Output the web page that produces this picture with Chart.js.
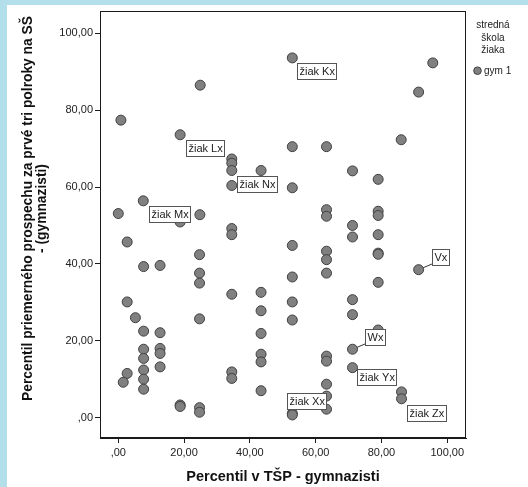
<!DOCTYPE html>
<html>
<head>
<meta charset="utf-8">
<script src="https://cdn.jsdelivr.net/npm/chart.js@4"></script>
<style>
  html, body { margin: 0; padding: 0; background: #b3dfeb; width: 528px; height: 487px; overflow: hidden; }
  #panel { position: absolute; left: 7px; top: 5px; width: 521px; height: 482px; background: #ffffff; }
  canvas { display: block; }
</style>
</head>
<body>
<div id="panel"><canvas id="c" width="521" height="482"></canvas></div>
<script>
// ---- data ----
const xValues = [24.9, 0.8, 18.8, 34.5, 34.5, 34.5, 43.4, 34.5, 7.6, 0.0, 24.8, 18.8, 34.5, 34.5,
  52.9, 52.9, 52.9, 95.6, 91.3, 86.0, 63.3, 71.2, 79.0, 63.3, 63.3, 79.0, 79.0, 71.2,
  2.7, 24.7, 7.7, 12.7, 24.7, 24.7, 34.5, 43.4, 43.4, 2.7, 5.2, 24.7, 7.7, 12.7, 43.4,
  7.7, 7.7, 12.7, 12.7, 12.7, 43.4, 43.4, 7.7, 7.7, 7.7, 2.7, 1.5, 34.5, 34.5, 43.4,
  18.8, 18.8, 24.7, 24.7, 52.9, 52.9, 52.9, 52.9, 71.2, 79.0, 63.3, 63.3, 63.3, 79.0,
  79.0, 79.0, 91.3, 71.2, 71.2, 79.0, 71.2, 63.3, 63.3, 71.2, 63.3, 63.3, 63.3, 86.1,
  86.1, 52.9, 52.9];
const yValues = [86.5, 77.4, 73.6, 67.3, 66.2, 64.3, 64.3, 60.4, 56.4, 53.1, 52.8, 50.9, 49.2, 47.6,
  93.6, 70.5, 59.8, 92.3, 84.7, 72.3, 70.5, 64.2, 62.0, 54.1, 52.4, 53.7, 52.6, 50.0,
  45.7, 42.4, 39.3, 39.6, 37.6, 35.0, 32.1, 32.6, 27.8, 30.1, 26.0, 25.7, 22.5, 22.1, 21.9,
  17.8, 15.4, 18.0, 16.7, 13.2, 16.5, 14.5, 12.4, 10.0, 7.4, 11.5, 9.2, 11.9, 10.2, 7.0,
  3.3, 2.9, 2.6, 1.4, 44.8, 36.6, 30.1, 25.4, 47.0, 47.6, 43.3, 41.1, 37.6, 42.8,
  42.5, 35.2, 38.5, 30.7, 26.8, 22.8, 17.8, 16.0, 14.7, 13.0, 8.7, 5.6, 2.2, 6.7,
  4.9, 1.1, 0.7];

const labelNames = ['žiak Kx', 'žiak Lx', 'žiak Nx', 'žiak Mx', 'Vx', 'Wx', 'žiak Yx', 'žiak Xx', 'žiak Zx'];
const labelX = [52.9, 18.8, 34.5, 7.6, 91.3, 71.2, 71.2, 52.9, 86.1];
const labelY = [93.6, 73.6, 60.4, 56.4, 38.5, 17.8, 13.0, 1.1, 4.9];

const xTickValues = [0, 20, 40, 60, 80, 100];
const xTickLabels = [',00', '20,00', '40,00', '60,00', '80,00', '100,00'];
const yTickValues = [0, 20, 40, 60, 80, 100];
const yTickLabels = [',00', '20,00', '40,00', '60,00', '80,00', '100,00'];

const seriesName = 'gym 1';
const legendTitle = ['stredná', 'škola', 'žiaka'];
const xTitle = 'Percentil v TŠP - gymnazisti';
const yTitle = ['Percentil priemerného prospechu za prvé tri polroky na SŠ', '- (gymnazisti)'];

// ---- style ----
const FONT = "'Liberation Sans', Arial, Helvetica, sans-serif";
const POINT_FILL = '#808080';
const POINT_BORDER = '#404040';
const AXIS_COLOR = '#1a1a1a';
const TEXT_COLOR = '#222222';

// label box offsets (px, relative to point) and connector flags
const labelStyle = [
  { dx: 5, dy: 5.4 }, { dx: 5.7, dy: 5.7 }, { dx: 5, dy: -9.3 }, { dx: 5.7, dy: 5.4 },
  { dx: 13, dy: -20.3, line: true }, { dx: 12.3, dy: -20.6, line: true },
  { dx: 4, dy: 1.6 }, { dx: -5.6, dy: -20.6 }, { dx: 5, dy: 6.7 }
];

const framePlugin = {
  id: 'frame',
  afterDraw(chart) {
    const { ctx, chartArea: a } = chart;
    ctx.save();
    ctx.strokeStyle = AXIS_COLOR;
    ctx.lineWidth = 1;
    ctx.strokeRect(Math.round(a.left) + 0.5, Math.round(a.top) + 0.5,
      Math.round(a.right - a.left) - 1, Math.round(a.bottom - a.top) - 1);
    ctx.restore();
  }
};

const labelPlugin = {
  id: 'pointLabels',
  afterDatasetsDraw(chart) {
    const { ctx } = chart;
    const xs = chart.scales.x, ys = chart.scales.y;
    ctx.save();
    ctx.font = '11px ' + FONT;
    labelNames.forEach((name, i) => {
      const px = xs.getPixelForValue(labelX[i]);
      const py = ys.getPixelForValue(labelY[i]);
      const st = labelStyle[i];
      const tw = ctx.measureText(name).width;
      const w = Math.round(tw + 5), h = 17;
      const bx = Math.round(px + st.dx), by = Math.round(py + st.dy);
      if (st.line) {
        const tx = bx, ty = by + h - 2;
        const ang = Math.atan2(ty - py, tx - px);
        ctx.beginPath();
        ctx.strokeStyle = '#333';
        ctx.lineWidth = 1;
        ctx.moveTo(px + 5 * Math.cos(ang), py + 5 * Math.sin(ang));
        ctx.lineTo(tx, ty);
        ctx.stroke();
      }
      ctx.fillStyle = '#ffffff';
      ctx.fillRect(bx, by, w, h);
      ctx.strokeStyle = '#555555';
      ctx.lineWidth = 1;
      ctx.strokeRect(bx + 0.5, by + 0.5, w - 1, h - 1);
      ctx.fillStyle = TEXT_COLOR;
      ctx.textBaseline = 'middle';
      ctx.textAlign = 'left';
      ctx.fillText(name, bx + 2.5, by + h / 2 + 0.5);
    });
    ctx.restore();
  }
};

const sideTextPlugin = {
  id: 'sideText',
  afterDraw(chart) {
    const { ctx } = chart;
    const ds = chart.data.datasets[0];
    ctx.save();
    // y axis title
    ctx.fillStyle = '#111';
    ctx.font = 'bold 13.8px ' + FONT;
    ctx.textAlign = 'center';
    ctx.textBaseline = 'middle';
    yTitle.forEach((t, i) => {
      ctx.save();
      ctx.translate(21 + i * 14, 203.5);
      ctx.rotate(-Math.PI / 2);
      ctx.fillText(t, 0, 0);
      ctx.restore();
    });
    // legend
    ctx.font = '10px ' + FONT;
    ctx.fillStyle = TEXT_COLOR;
    legendTitle.forEach((t, i) => ctx.fillText(t, 486, 20.5 + i * 12.5));
    ctx.beginPath();
    ctx.arc(470.5, 65.7, 3.8, 0, Math.PI * 2);
    ctx.fillStyle = ds.backgroundColor;
    ctx.fill();
    ctx.strokeStyle = ds.borderColor;
    ctx.lineWidth = 1;
    ctx.stroke();
    ctx.fillStyle = TEXT_COLOR;
    ctx.textAlign = 'left';
    ctx.fillText(ds.label, 477, 66);
    ctx.restore();
  }
};

new Chart(document.getElementById('c'), {
  type: 'scatter',
  data: {
    datasets: [{
      label: seriesName,
      data: xValues.map((x, i) => ({ x: x, y: yValues[i] })),
      pointRadius: 5,
      pointHoverRadius: 5,
      backgroundColor: POINT_FILL,
      borderColor: POINT_BORDER,
      borderWidth: 1
    }]
  },
  options: {
    responsive: false,
    animation: false,
    devicePixelRatio: 1,
    layout: { padding: { top: 5, right: 62, left: 0, bottom: 0 } },
    plugins: { legend: { display: false }, tooltip: { enabled: false } },
    scales: {
      x: {
        type: 'linear',
        min: -5.56,
        max: 105.7,
        afterBuildTicks: (s) => { s.ticks = xTickValues.map(v => ({ value: v })); },
        afterFit: (s) => { s.height = 49; s.paddingLeft = 0; s.paddingRight = 0; },
        ticks: {
          padding: 3,
          color: TEXT_COLOR,
          font: { family: FONT, size: 11 },
          maxRotation: 0,
          callback: (v) => xTickLabels[xTickValues.indexOf(v)]
        },
        grid: { drawOnChartArea: false, drawTicks: true, tickLength: 5, color: AXIS_COLOR },
        border: { display: true, color: AXIS_COLOR, width: 1 },
        title: {
          display: true, text: xTitle, color: '#111',
          font: { family: FONT, size: 14.5, weight: 'bold' },
          padding: { top: 0, bottom: 1 }
        }
      },
      y: {
        type: 'linear',
        min: -5.3,
        max: 105.8,
        afterBuildTicks: (s) => { s.ticks = yTickValues.map(v => ({ value: v })); },
        afterFit: (s) => { s.width = 93; s.paddingTop = 0; s.paddingBottom = 0; },
        ticks: {
          padding: 2,
          color: TEXT_COLOR,
          font: { family: FONT, size: 11 },
          callback: (v) => yTickLabels[yTickValues.indexOf(v)]
        },
        grid: { drawOnChartArea: false, drawTicks: true, tickLength: 5, color: AXIS_COLOR },
        border: { display: true, color: AXIS_COLOR, width: 1 },
        title: { display: false }
      }
    }
  },
  plugins: [framePlugin, labelPlugin, sideTextPlugin]
});
</script>
</body>
</html>
